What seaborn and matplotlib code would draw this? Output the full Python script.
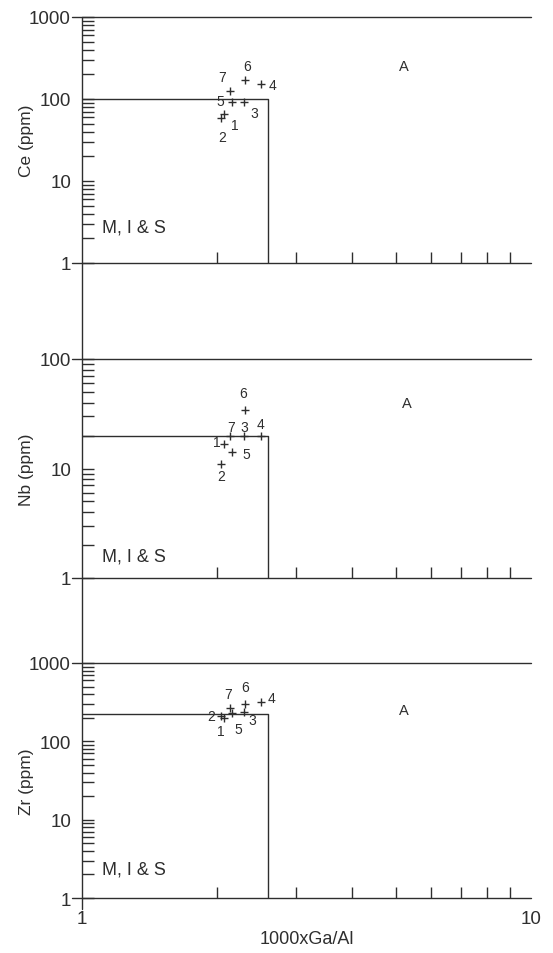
import matplotlib
matplotlib.use("Agg")
import matplotlib.pyplot as plt
from matplotlib.lines import Line2D
from matplotlib.ticker import FixedLocator, FixedFormatter, LogLocator, NullFormatter
import pandas as pd
import seaborn as sns

# ---- data -------------------------------------------------------------
samples = ["1", "2", "3", "4", "5", "6", "7"]
ga_al = [2.07, 2.04, 2.30, 2.50, 2.16, 2.31, 2.14]     # 1000xGa/Al
ce = [66, 59, 93, 152, 91, 172, 124]                   # Ce (ppm)
nb = [16.6, 10.9, 20, 20, 14.1, 34.3, 20]              # Nb (ppm)
zr = [197, 213, 235, 321, 231, 300, 265]               # Zr (ppm)

# discriminant boundaries between A-type and M, I & S granites
ga_al_limit = 2.6
ce_limit = 100
nb_limit = 20
zr_limit = 225

ce_ticks = [1, 10, 100, 1000]
nb_ticks = [1, 10, 100]
zr_ticks = [1, 10, 100, 1000]
x_ticks = [1, 10]
x_tick_labels = ["1", "10"]

df = pd.DataFrame({"sample": samples, "ga_al": ga_al, "Ce": ce, "Nb": nb, "Zr": zr})

# ---- style ------------------------------------------------------------
sns.set_style("white")
plt.rcParams["font.family"] = ["Liberation Sans", "DejaVu Sans"]
INK = "#2e2e2e"
LW = 1.0
PX = 0.72  # points per pixel at 100 dpi

W, H = 553, 954
X_LEFT, X_RIGHT = 82, 531


def rect(top, bottom):
    return [X_LEFT / W, 1 - bottom / H, (X_RIGHT - X_LEFT) / W, (bottom - top) / H]


# label offsets (pixels, right / up) for the sample numbers in each panel
ce_offsets = {"1": (11, -11), "2": (1, -19), "3": (10, -11), "4": (12, -1),
              "5": (-12, 1), "6": (2, 14), "7": (-8, 14)}
nb_offsets = {"1": (-7, 2), "2": (0, -12), "3": (0, 9), "4": (0, 12),
              "5": (14, -2), "6": (-2, 17), "7": (1, 9)}
zr_offsets = {"1": (-3, -13), "2": (-10, 0), "3": (8, -8), "4": (11, 4),
              "5": (6, -16), "6": (0, 17), "7": (-2, 14)}

panels = [
    dict(col="Ce", ticks=ce_ticks, limit=ce_limit, label="Ce (ppm)",
         offsets=ce_offsets, rect=rect(18, 264), a_pos=(5.2, 250), mis_y=2.75),
    dict(col="Nb", ticks=nb_ticks, limit=nb_limit, label="Nb (ppm)",
         offsets=nb_offsets, rect=rect(360, 579), a_pos=(5.3, 40), mis_y=1.6),
    dict(col="Zr", ticks=zr_ticks, limit=zr_limit, label="Zr (ppm)",
         offsets=zr_offsets, rect=rect(664, 899), a_pos=(5.2, 250), mis_y=2.35),
]

fig = plt.figure(figsize=(W / 100, H / 100), dpi=100)
fig.patch.set_facecolor("white")

axes = []
for i, p in enumerate(panels):
    ax = fig.add_axes(p["rect"])
    axes.append(ax)
    ax.set_facecolor("none")
    ax.set_xscale("log")
    ax.set_yscale("log")
    ymax = p["ticks"][-1]
    ax.set_xlim(1, 10)
    ax.set_ylim(1, ymax)
    for s in ax.spines.values():
        s.set_visible(False)

    # frame lines at the bottom and top of each panel
    ax.axhline(1, xmin=-0.022, xmax=1, color=INK, lw=LW, clip_on=False)
    ax.axhline(ymax, xmin=-0.022, xmax=1, color=INK, lw=LW, clip_on=False)

    # field boundary
    ax.plot([1, ga_al_limit, ga_al_limit], [p["limit"], p["limit"], 1],
            color=INK, lw=LW)

    # samples
    sns.scatterplot(data=df, x="ga_al", y=p["col"], marker="+", s=32,
                    color=INK, linewidth=1.0, legend=False, ax=ax)
    for _, row in df.iterrows():
        dx, dy = p["offsets"][row["sample"]]
        ax.annotate(row["sample"], (row["ga_al"], row[p["col"]]),
                    xytext=(dx * PX, dy * PX), textcoords="offset points",
                    ha="center", va="center", fontsize=10, color=INK)

    ax.text(p["a_pos"][0], p["a_pos"][1], "A", ha="center", va="center",
            fontsize=10.5, color=INK)
    ax.text(1.11, p["mis_y"], "M, I & S", ha="left", va="center",
            fontsize=13, color=INK)

    # y axis
    ax.yaxis.set_major_locator(FixedLocator(p["ticks"]))
    ax.yaxis.set_major_formatter(FixedFormatter([str(t) for t in p["ticks"]]))
    ax.yaxis.set_minor_locator(LogLocator(base=10, subs=range(2, 10)))
    ax.yaxis.set_minor_formatter(NullFormatter())
    ax.tick_params(axis="y", which="both", direction="in", length=12 * PX,
                   width=LW, color=INK, left=True, right=False,
                   labelsize=13.5, labelcolor=INK, pad=11 * PX)
    ax.set_ylabel(p["label"], fontsize=12.5, color=INK)
    ax.yaxis.set_label_coords((34 - X_LEFT) / (X_RIGHT - X_LEFT), 0.5)

    # x axis
    ax.xaxis.set_major_locator(FixedLocator(x_ticks))
    ax.xaxis.set_minor_locator(LogLocator(base=10, subs=range(2, 10)))
    ax.xaxis.set_minor_formatter(NullFormatter())
    ax.tick_params(axis="x", which="minor", direction="in", length=11 * PX,
                   width=LW, color=INK, bottom=True, top=False)
    ax.tick_params(axis="x", which="major", length=0, bottom=True, top=False,
                   labelsize=13.5, labelcolor=INK, pad=12 * PX)
    if i == len(panels) - 1:
        ax.xaxis.set_major_formatter(FixedFormatter(x_tick_labels))
        ax.set_xlabel("1000xGa/Al", fontsize=13, color=INK, labelpad=2)
    else:
        ax.tick_params(axis="x", which="major", labelbottom=False)
        ax.set_xlabel("")

# shared left axis line running through all panels
fig.add_artist(Line2D([X_LEFT / W, X_LEFT / W], [1 - 18 / H, 1 - 910 / H],
                      transform=fig.transFigure, color=INK, lw=LW))

fig.savefig("out.png", dpi=100, facecolor="white")
